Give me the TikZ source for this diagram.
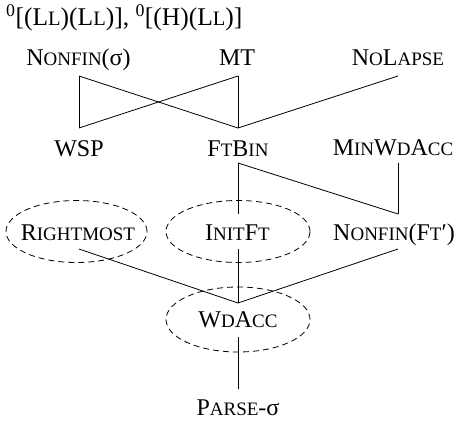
\documentclass[tikz,border=0pt]{standalone}
\usepackage{fontspec}
\setmainfont{Liberation Serif}
\newcommand\sm[1]{{\fontsize{19pt}{20pt}\selectfont #1}}
\newcommand\smt[1]{{\fontsize{20.5pt}{22pt}\selectfont #1}}
\begin{document}
\begin{tikzpicture}[x=1pt,y=1pt,
  lbl/.style={anchor=base,inner sep=0pt,font=\fontsize{24pt}{26pt}\selectfont},
  edge/.style={line width=0.8pt},
  ring/.style={dashed,dash pattern=on 6pt off 4pt,line width=0.8pt}]
\useasboundingbox (0,0) rectangle (461,-422);
% title
\node[lbl,anchor=base west,font=\fontsize{25.5pt}{28pt}\selectfont] (title) at (6,-26) {\textsuperscript{0}[(L\smt{L})(L\smt{L})], \textsuperscript{0}[(H)(L\smt{L})]};
% row 1
\node[lbl] (nfs) at (78.5,-66) {N\sm{ONFIN}(σ)};
\node[lbl] (mt) at (237,-66) {MT};
\node[lbl] (nol) at (398,-66) {N\sm{O}L\sm{APSE}};
% row 2
\node[lbl] (wsp) at (79,-157) {WSP};
\node[lbl] (ftb) at (238,-157) {F\sm{T}B\sm{IN}};
\node[lbl] (mwa) at (393,-156) {M\sm{IN}W\sm{D}A\sm{CC}};
% row 3
\node[lbl] (rm) at (78,-241) {R\sm{IGHTMOST}};
\node[lbl] (ift) at (237.5,-241) {I\sm{NIT}F\sm{T}};
\node[lbl] (nft) at (394,-241) {N\sm{ONFIN}(F\sm{T}′)};
% row 4
\node[lbl] (wda) at (238,-328) {W\sm{D}A\sm{CC}};
\node[lbl] (prs) at (238,-415) {P\sm{ARSE}-σ};
% ellipses
\draw[ring] (76.5,-231.5) ellipse [x radius=70.5, y radius=31];
\draw[ring] (238,-231.5) ellipse [x radius=72, y radius=31];
\draw[ring] (238,-319.5) ellipse [x radius=72, y radius=32.5];
% connectors
\draw[edge] ([xshift=0.5pt,yshift=-10pt]nfs.base) -- ([yshift=29pt]wsp.base);
\draw[edge] ([xshift=0.5pt,yshift=-10pt]nfs.base) -- ([yshift=29pt]ftb.base);
\draw[edge] ([xshift=1pt,yshift=-10pt]mt.base) -- ([yshift=29pt]wsp.base);
\draw[edge] ([xshift=1pt,yshift=-10pt]mt.base) -- ([yshift=29pt]ftb.base);
\draw[edge] ([yshift=-10pt]nol.base) -- ([yshift=29pt]ftb.base);
\draw[edge] ([yshift=-6pt]ftb.base) -- ([xshift=0.5pt,yshift=27pt]ift.base);
\draw[edge] ([yshift=-6pt]ftb.base) -- ([xshift=4pt,yshift=27pt]nft.base);
\draw[edge] ([xshift=5pt,yshift=-7pt]mwa.base) -- ([xshift=4pt,yshift=27pt]nft.base);
\draw[edge] ([xshift=1pt,yshift=-8pt]rm.base) -- ([yshift=25pt]wda.base);
\draw[edge] ([xshift=0.5pt,yshift=-8pt]ift.base) -- ([yshift=25pt]wda.base);
\draw[edge] ([xshift=4pt,yshift=-8pt]nft.base) -- ([yshift=25pt]wda.base);
\draw[edge] ([yshift=-9pt]wda.base) -- ([yshift=26pt]prs.base);
\end{tikzpicture}
\end{document}
